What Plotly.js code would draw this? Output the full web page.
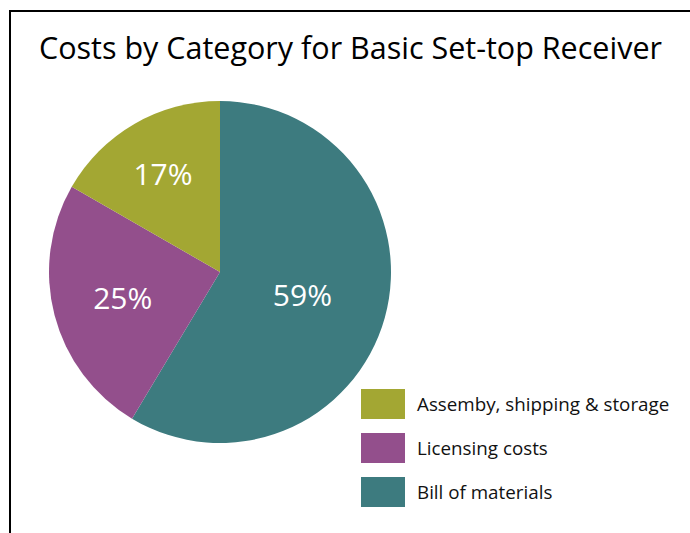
<!DOCTYPE html>
<html>
<head>
<meta charset="utf-8">
<script src="https://cdn.plot.ly/plotly-3.0.1.min.js"></script>
<style>
html,body{margin:0;padding:0;background:#fff;}
#chart{width:690px;height:533px;}
</style>
</head>
<body>
<div id="chart"></div>
<script>
// Data (order: clockwise from 12 o'clock)
const labels = ["Bill of materials", "Licensing costs", "Assemby, shipping & storage"];
const values = [58.6, 24.7, 16.7];
const pctText = ["59%", "25%", "17%"];
const colors = ["#3D7B7F", "#934F8C", "#A3A733"];
const chartTitle = "Costs by Category for Basic Set-top Receiver";

const W = 690, H = 533;
const px = x => x / W;
const py = y => 1 - y / H;

const trace = {
  type: "pie",
  labels: labels,
  values: values,
  text: pctText,
  textinfo: "text",
  textposition: "inside",
  insidetextorientation: "horizontal",
  textfont: {family: "Open Sans, sans-serif", size: 30, color: "#ffffff"},
  marker: {colors: colors, line: {width: 0}},
  sort: false,
  direction: "clockwise",
  rotation: 0,
  hoverinfo: "label+text",
  showlegend: false,
  domain: {x: [px(49), px(391)], y: [py(443), py(101)]}
};

// custom legend (reverse order), built from the data arrays
const shapes = [{
  type: "rect", xref: "paper", yref: "paper",
  x0: px(10), x1: px(700), y0: py(545), y1: py(11),
  line: {color: "#000", width: 2}, fillcolor: "rgba(0,0,0,0)"
}];
const annotations = [];
const legOrder = labels.map((_, i) => i).reverse();
legOrder.forEach((idx, k) => {
  const top = 389 + k * 44;
  shapes.push({
    type: "rect", xref: "paper", yref: "paper",
    x0: px(361), x1: px(405), y0: py(top + 30), y1: py(top),
    line: {width: 0}, fillcolor: colors[idx]
  });
  annotations.push({
    xref: "paper", yref: "paper", x: px(415), y: py(top + 15),
    xanchor: "left", yanchor: "middle", showarrow: false,
    text: labels[idx],
    font: {family: "Open Sans, sans-serif", size: 18.8, color: "#111"}
  });
});

const layout = {
  width: W, height: H,
  margin: {l: 0, r: 0, t: 0, b: 0},
  paper_bgcolor: "#fff",
  title: {
    text: chartTitle,
    x: px(39), xanchor: "left", xref: "paper",
    y: py(48), yanchor: "middle", yref: "paper",
    font: {family: "Open Sans, sans-serif", size: 30.5, color: "#000"}
  },
  shapes: shapes,
  annotations: annotations,
  showlegend: false
};

Plotly.newPlot("chart", [trace], layout, {displayModeBar: false, staticPlot: true});
</script>
</body>
</html>
